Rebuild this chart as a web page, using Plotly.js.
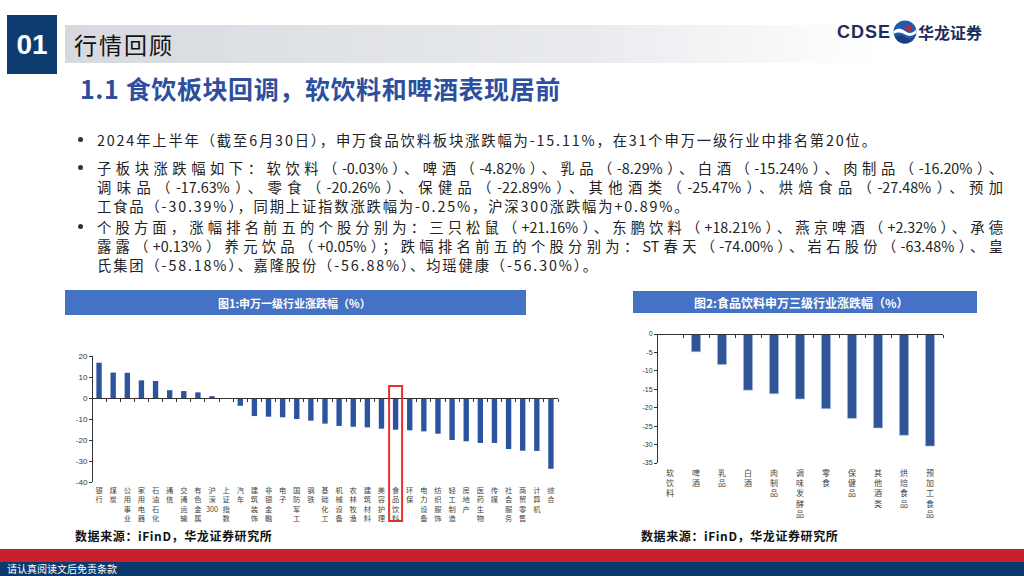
<!DOCTYPE html>
<html><head><meta charset="utf-8">
<script src="https://cdn.plot.ly/plotly-3.0.1.min.js"></script>
<style>
body{margin:0;width:1024px;height:576px;overflow:hidden;background:#fff;font-family:"Noto Sans CJK SC",sans-serif;}
#chart{position:absolute;left:0;top:0;width:1024px;height:576px;}
.s-abs{position:absolute;white-space:nowrap;}
.s-num{left:7px;top:15px;width:50px;height:59px;background:#0E3B70;color:#fff;font:bold 28px "Liberation Sans",Arial,sans-serif;line-height:59px;text-align:center;}
.s-gbar{left:65px;top:25px;width:959px;height:38px;background:linear-gradient(to right,#d6d9de 0%,#e9ebee 55%,#ffffff 85%);}
.s-htxt{left:74px;top:25px;height:38px;line-height:38px;font-size:23px;color:#111;letter-spacing:2px;}
.s-ttl{left:80px;top:70px;font-size:25px;font-weight:bold;color:#2D4F9E;line-height:36px;letter-spacing:0.6px;}
.s-logo1{left:837px;top:20px;font:bold 18px "Liberation Sans",Arial,sans-serif;color:#1D2B5C;letter-spacing:1px;line-height:24px;}
.s-logo2{left:918px;top:20px;font-size:16px;font-weight:bold;color:#1D2B5C;line-height:24px;}
.s-bl{left:97px;font-size:14.3px;color:#222;line-height:19px;letter-spacing:1.85px;}
.s-j{width:906px;text-align:justify;text-align-last:justify;letter-spacing:0;white-space:normal;}
.s-dot{left:78px;width:5px;height:5px;border-radius:50%;background:#333;}
.s-src{font-size:12px;font-weight:bold;color:#111;letter-spacing:0.6px;}
.s-red{left:0;top:549px;width:1024px;height:13px;background:#C8202F;}
.s-navy{left:0;top:562px;width:1024px;height:14px;background:#0D3A6C;}
.s-foot{left:7px;top:562px;font-size:10px;color:#fff;line-height:14px;}
</style></head>
<body>
<div id="chart"></div>
<div class="s-abs s-num">01</div>
<div class="s-abs s-gbar"></div>
<div class="s-abs s-htxt">行情回顾</div>
<div class="s-abs s-ttl">1.1 食饮板块回调，软饮料和啤酒表现居前</div>
<div class="s-abs s-logo1">CDSE</div>
<svg class="s-abs" style="left:892px;top:19px" width="26" height="26" viewBox="0 0 26 26">
<circle cx="13" cy="13" r="11.5" fill="#2458a8"/>
<path d="M1.5 12 Q7 7 13 12 T24.5 10 L24.5 14 Q19 19 13 15.5 T1.5 15Z" fill="#fff"/>
<path d="M3 18 Q8 14 13 18 T23 17 Q19 24 13 24.5 Q6 24 3 18Z" fill="#1a3f86"/>
<rect x="14" y="7" width="5" height="5" transform="rotate(45 16.5 9.5)" fill="#d6202b"/>
</svg>
<div class="s-abs s-logo2">华龙证券</div>

<div class="s-abs s-dot" style="top:137px"></div>
<div class="s-abs s-bl" style="top:130px">2024年上半年（截至6月30日），申万食品饮料板块涨跌幅为-15.11%，在31个申万一级行业中排名第20位。</div>
<div class="s-abs s-dot" style="top:165px"></div>
<div class="s-abs s-bl s-j" style="top:158px">子板块涨跌幅如下：软饮料（-0.03%）、啤酒（-4.82%）、乳品（-8.29%）、白酒（-15.24%）、肉制品（-16.20%）、</div>
<div class="s-abs s-bl s-j" style="top:177px">调味品（-17.63%）、零食（-20.26%）、保健品（-22.89%）、其他酒类（-25.47%）、烘焙食品（-27.48%）、预加</div>
<div class="s-abs s-bl" style="top:196px">工食品（-30.39%），同期上证指数涨跌幅为-0.25%，沪深300涨跌幅为+0.89%。</div>
<div class="s-abs s-dot" style="top:224px"></div>
<div class="s-abs s-bl s-j" style="top:217px">个股方面，涨幅排名前五的个股分别为：三只松鼠（+21.16%）、东鹏饮料（+18.21%）、燕京啤酒（+2.32%）、承德</div>
<div class="s-abs s-bl s-j" style="top:236px">露露（+0.13%）养元饮品（+0.05%）；跌幅排名前五的个股分别为：ST春天（-74.00%）、岩石股份（-63.48%）、皇</div>
<div class="s-abs s-bl" style="top:255px">氏集团（-58.18%）、嘉隆股份（-56.88%）、均瑶健康（-56.30%）。</div>

<div class="s-abs s-src" style="left:75px;top:527px">数据来源：iFinD，华龙证券研究所</div>
<div class="s-abs s-src" style="left:641px;top:527px">数据来源：iFinD，华龙证券研究所</div>

<div class="s-abs s-red"></div>
<div class="s-abs s-navy"></div>
<div class="s-abs s-foot">请认真阅读文后免责条款</div>

<script>
// Chart 1: 申万一级行业涨跌幅（%）
const industries = ['银行','煤炭','公用事业','家用电器','石油石化','通信','交通运输','有色金属','沪深300','上证指数','汽车','建筑装饰','非银金融','电子','国防军工','钢铁','基础化工','机械设备','农林牧渔','建筑材料','美容护理','食品饮料','环保','电力设备','纺织服饰','轻工制造','房地产','医药生物','传媒','社会服务','商贸零售','计算机','综合'];
const industryChange = [16.8, 12.1, 12.0, 8.4, 8.1, 3.7, 3.3, 2.7, 0.89, -0.25, -3.7, -8.6, -8.9, -9.2, -10.0, -10.8, -12.2, -13.3, -13.7, -14.0, -14.6, -15.11, -15.4, -15.9, -17.0, -20.0, -20.6, -21.4, -21.4, -24.3, -25.1, -25.2, -33.7];
const yTicks1 = [20, 10, 0, -10, -20, -30, -40];
const yTickText1 = ['20', '10', '0', '-10', '-20', '-30', '-40'];

// Chart 2: 食品饮料申万三级行业涨跌幅（%）
const subSectors = ['软饮料','啤酒','乳品','白酒','肉制品','调味发酵品','零食','保健品','其他酒类','烘焙食品','预加工食品'];
const subChange = [-0.03, -4.82, -8.29, -15.24, -16.20, -17.63, -20.26, -22.89, -25.47, -27.48, -30.39];
const yTicks2 = [0, -5, -10, -15, -20, -25, -30, -35];
const yTickText2 = ['0', '-5', '-10', '-15', '-20', '-25', '-30', '-35'];

function vert(s){
  const m = s.match(/^(.*?)(\d+)$/);
  if (m) return m[1].split('').join('<br>') + '<br>' + m[2];
  return s.split('').join('<br>');
}

const W = 1024, H = 576;
const px = x => x / W, py = y => 1 - y / H;
const numFont = 'Liberation Sans, Arial, sans-serif';
const cjk = 'Noto Sans CJK SC, sans-serif';

const traces = [
  {type:'bar', x: industries, y: industryChange, xaxis:'x', yaxis:'y',
   marker:{color:'#2c53a0'}, width:0.38},
  {type:'bar', x: subSectors, y: subChange, xaxis:'x2', yaxis:'y2',
   marker:{color:'#2f5597', line:{color:'#a9bde0', width:0.6}}, width:0.35}
];

function axisCommon(){ return {showgrid:false, zeroline:false, showline:true, linecolor:'#333', linewidth:1,
  ticks:'outside', ticklen:3, tickcolor:'#333', tickwidth:1}; }

const layout = {
  width: W, height: H, margin:{l:0,r:0,t:0,b:0},
  paper_bgcolor:'rgba(0,0,0,0)', plot_bgcolor:'rgba(0,0,0,0)',
  showlegend:false,
  xaxis: Object.assign(axisCommon(), {
    domain:[px(92), px(558)], anchor:'free', position: py(398),
    type:'category', range:[-0.5, industries.length-0.5], tickson:'boundaries', tickangle:0,
    tickvals: industries, ticktext: industries.map(vert),
    tickfont:{size:7.3, color:'#444', family:cjk}, ticklabelstandoff: 85
  }),
  yaxis: Object.assign(axisCommon(), {
    domain:[py(482), py(356)], anchor:'free', position: px(92),
    range:[-40, 20], tickvals: yTicks1, ticktext: yTickText1,
    tickfont:{size:8, color:'#333', family:numFont}
  }),
  xaxis2: Object.assign(axisCommon(), {
    domain:[px(657), px(943)], anchor:'free', position: py(334),
    type:'category', range:[-0.5, subSectors.length-0.5], tickson:'boundaries', tickangle:0,
    tickvals: subSectors, ticktext: subSectors.map(vert),
    tickfont:{size:8, color:'#444', family:cjk}, ticklabelstandoff: 131
  }),
  yaxis2: Object.assign(axisCommon(), {
    domain:[py(463), py(334)], anchor:'free', position: px(657),
    range:[-35, 0], tickvals: yTicks2, ticktext: yTickText2,
    tickfont:{size:7, color:'#333', family:numFont}
  }),
  shapes: [
    {type:'rect', xref:'paper', yref:'paper', x0:px(65), x1:px(526), y0:py(315), y1:py(290), fillcolor:'#4472C4', line:{width:0}, layer:'below'},
    {type:'rect', xref:'paper', yref:'paper', x0:px(633), x1:px(977), y0:py(313), y1:py(291), fillcolor:'#4472C4', line:{width:0}, layer:'below'},
    {type:'rect', xref:'x', yref:'paper', x0: industries.indexOf('食品饮料')-0.46, x1: industries.indexOf('食品饮料')+0.46,
     y0:py(521), y1:py(386), line:{color:'#E8302A', width:2}, fillcolor:'rgba(0,0,0,0)'}
  ],
  annotations: [
    {xref:'paper', yref:'paper', x:px(294), y:py(302.5), xanchor:'center', yanchor:'middle', text:'<b>图1:申万一级行业涨跌幅（%）</b>', showarrow:false,
     font:{size:11, color:'#fff', family:cjk}},
    {xref:'paper', yref:'paper', x:px(801), y:py(302), xanchor:'center', yanchor:'middle', text:'<b>图2:食品饮料申万三级行业涨跌幅（%）</b>', showarrow:false,
     font:{size:12, color:'#fff', family:cjk}}
  ]
};

Plotly.newPlot('chart', traces, layout, {displayModeBar:false, staticPlot:true});
</script>
</body></html>
